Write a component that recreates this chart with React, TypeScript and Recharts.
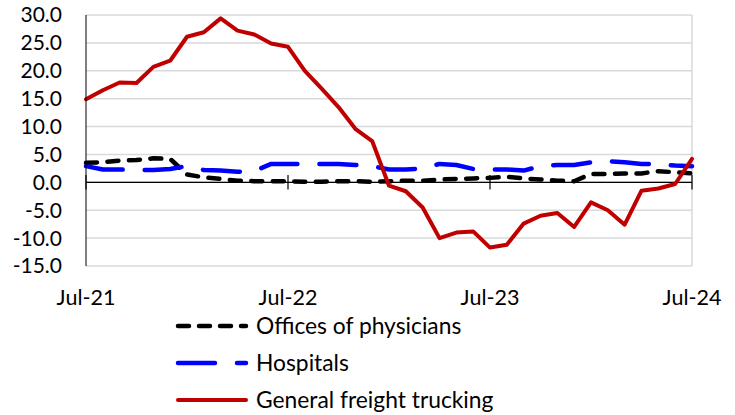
import React from "react";
import { LineChart, Line, XAxis, YAxis, CartesianGrid, ReferenceLine, Legend } from "recharts";

const months = [
  "Jul-21","Aug-21","Sep-21","Oct-21","Nov-21","Dec-21","Jan-22","Feb-22","Mar-22","Apr-22","May-22","Jun-22",
  "Jul-22","Aug-22","Sep-22","Oct-22","Nov-22","Dec-22","Jan-23","Feb-23","Mar-23","Apr-23","May-23","Jun-23",
  "Jul-23","Aug-23","Sep-23","Oct-23","Nov-23","Dec-23","Jan-24","Feb-24","Mar-24","Apr-24","May-24","Jun-24","Jul-24",
];

const physicians = [
  3.5, 3.6, 3.9, 4.0, 4.3, 4.2, 1.4, 0.9, 0.6, 0.3, 0.2, 0.2, 0.2,
  0.1, 0.1, 0.2, 0.2, 0.1, 0.2, 0.3, 0.3, 0.5, 0.6, 0.7, 0.8,
  1.0, 0.7, 0.5, 0.3, 0.2, 1.5, 1.5, 1.6, 1.6, 2.0, 1.8, 1.6,
];

const hospitals = [
  2.9, 2.3, 2.3, 2.2, 2.2, 2.4, 2.9, 2.2, 2.1, 1.9, 2.0, 3.3, 3.3,
  3.3, 3.3, 3.3, 3.1, 2.9, 2.3, 2.3, 2.5, 3.3, 3.1, 2.4, 2.3,
  2.3, 2.1, 2.9, 3.1, 3.1, 3.6, 3.8, 3.6, 3.3, 3.3, 3.0, 2.9,
];

const trucking = [
  14.9, 16.5, 17.9, 17.8, 20.7, 21.8, 26.1, 26.9, 29.4, 27.2, 26.5, 24.9, 24.3,
  20.0, 16.8, 13.5, 9.6, 7.4, -0.6, -1.6, -4.5, -10.0, -9.0, -8.8, -11.7,
  -11.2, -7.4, -6.0, -5.5, -8.0, -3.6, -5.0, -7.6, -1.5, -1.1, -0.3, 4.2,
];

const xTicks = [0, 12, 24, 36];
const yTicks = [-15, -10, -5, 0, 5, 10, 15, 20, 25, 30];

const seriesInfo = [
  { key: "physicians", name: "Offices of physicians", color: "#000000", dash: "11 10.5", width: 4.5 },
  { key: "hospitals", name: "Hospitals", color: "#0000ff", dash: "37 22", width: 4.5 },
  { key: "trucking", name: "General freight trucking", color: "#c00000", dash: undefined as string | undefined, width: 4 },
];

const data = months.map((m, i) => ({
  idx: i,
  month: m,
  physicians: physicians[i],
  hospitals: hospitals[i],
  trucking: trucking[i],
}));

const FONT = "Lato, 'Noto Sans', sans-serif";

const renderLegend = () => (
  <svg width={380} height={115} style={{ display: "block", overflow: "visible" }}>
    {seriesInfo.map((s, i) => {
      const y = 16 + i * 37;
      return (
        <g key={s.key}>
          <line
            x1={4}
            x2={72}
            y1={y}
            y2={y}
            stroke={s.color}
            strokeWidth={s.width}
            strokeDasharray={s.key === "physicians" ? "11 10" : s.key === "hospitals" ? "37 22" : undefined}
            strokeLinecap="round"
          />
          <text x={82} y={y} dy="0.35em" fontFamily={FONT} fontSize={22.8} fill="#000">
            {s.name}
          </text>
        </g>
      );
    })}
  </svg>
);

export default function App() {
  return (
    <div style={{ position: "absolute", left: 0, top: 0, width: 735, height: 415, background: "#fff" }}>
      <LineChart
        width={735}
        height={415}
        data={data}
        margin={{ top: 15, right: 43, left: 0, bottom: 119 }}
      >
        <CartesianGrid vertical={false} stroke="#d9d9d9" strokeWidth={1.5} />
        <XAxis
          dataKey="idx"
          type="number"
          domain={[0, 36]}
          ticks={xTicks}
          tickFormatter={(v: number) => months[v]}
          axisLine={false}
          tickLine={false}
          tickSize={0}
          tickMargin={24}
          height={30}
          interval={0}
          tick={{ fontFamily: FONT, fontSize: 21.5, fill: "#000" }}
        />
        <YAxis
          domain={[-15, 30]}
          ticks={yTicks}
          interval={0}
          tickFormatter={(v: number) => v.toFixed(1)}
          axisLine={{ stroke: "#000", strokeWidth: 1 }}
          tickLine={false}
          tickSize={0}
          tickMargin={24}
          width={86}
          tick={{ fontFamily: FONT, fontSize: 21, fill: "#000" }}
        />
        <ReferenceLine x={36} stroke="#d9d9d9" strokeWidth={1.5} />
        <ReferenceLine y={0} stroke="#000" strokeWidth={1.2} />
        {xTicks.map((t) => (
          <ReferenceLine
            key={t}
            segment={[{ x: t, y: -1.3 }, { x: t, y: 1.3 }]}
            stroke="#000"
            strokeWidth={1.2}
          />
        ))}
        {seriesInfo.map((s) => (
          <Line
            key={s.key}
            type="linear"
            dataKey={s.key}
            name={s.name}
            stroke={s.color}
            strokeWidth={s.width}
            strokeDasharray={s.dash}
            strokeLinecap="round"
            strokeLinejoin="round"
            dot={false}
            activeDot={false}
            isAnimationActive={false}
          />
        ))}
        <Legend
          layout="vertical"
          align="center"
          verticalAlign="middle"
          content={renderLegend}
          wrapperStyle={{ position: "absolute", left: 174, top: 310, width: 380, height: 115 }}
        />
      </LineChart>
    </div>
  );
}
